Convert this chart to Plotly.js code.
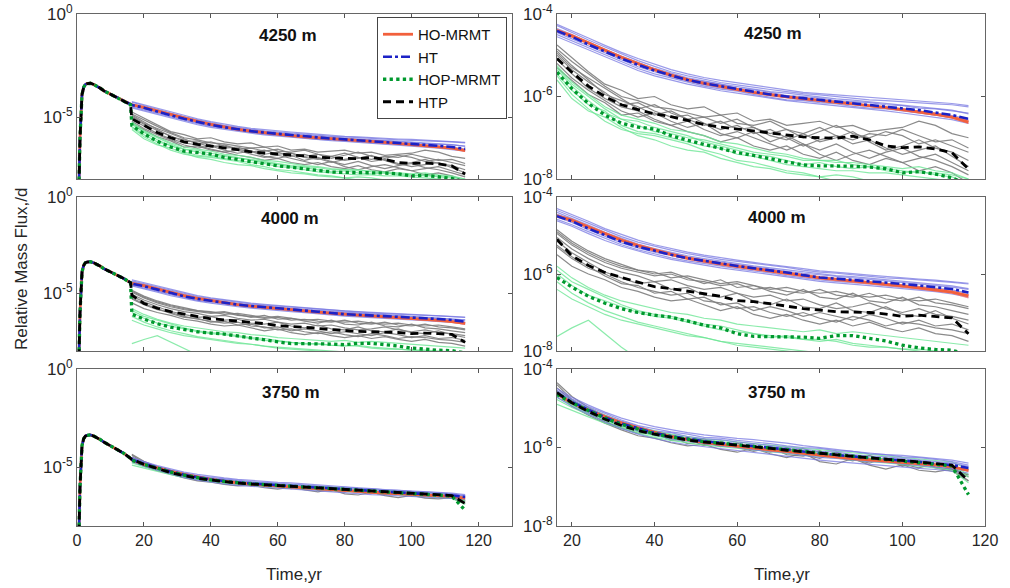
<!DOCTYPE html>
<html>
<head>
<meta charset="utf-8">
<script src="https://cdn.plot.ly/plotly-3.0.1.min.js"></script>
<style>html,body{margin:0;padding:0;background:#fff}#chart{width:1010px;height:588px}</style>
</head>
<body>
<div id="chart"></div>
<script>
// ---------------- DATA (log10 of relative mass flux) ----------------
const T_EARLY = [0.3, 0.6, 0.9, 1.2, 1.5, 2, 2.5, 3, 3.5, 4, 5, 6, 7, 8, 10, 12, 14, 16];
const EARLY_4250 = [-9, -8.2, -6.0, -4.6, -3.9, -3.55, -3.42, -3.38, -3.36, -3.36, -3.42, -3.5, -3.6, -3.72, -3.88, -4.06, -4.22, -4.40];
const EARLY_4000 = [-9, -8.2, -6.0, -4.6, -3.9, -3.55, -3.42, -3.38, -3.36, -3.36, -3.42, -3.5, -3.6, -3.72, -3.88, -4.06, -4.24, -4.45];
const EARLY_3750 = [-9, -8.2, -6.0, -4.6, -3.9, -3.55, -3.42, -3.38, -3.36, -3.36, -3.42, -3.5, -3.6, -3.72, -3.9, -4.1, -4.3, -4.55];

const T = [16.4, 20, 24, 28, 32, 36, 40, 44, 48, 52, 56, 60, 64, 68, 72, 76, 80, 84, 88, 92, 96, 100, 104, 108, 112, 116];

// 4250 m
const HO_4250  = [-4.40,-4.53,-4.70,-4.88,-5.05,-5.20,-5.35,-5.48,-5.59,-5.68,-5.76,-5.83,-5.90,-5.96,-6.01,-6.05,-6.10,-6.14,-6.18,-6.22,-6.27,-6.32,-6.37,-6.43,-6.50,-6.62];
const HT_4250  = [-4.41,-4.55,-4.74,-4.91,-5.08,-5.23,-5.37,-5.49,-5.60,-5.68,-5.75,-5.81,-5.88,-5.95,-6.00,-6.04,-6.08,-6.12,-6.16,-6.20,-6.24,-6.28,-6.33,-6.39,-6.45,-6.54];
const HOP_4250 = [-5.41,-5.81,-6.17,-6.45,-6.65,-6.74,-6.79,-6.95,-7.06,-7.16,-7.26,-7.36,-7.43,-7.51,-7.60,-7.66,-7.68,-7.68,-7.69,-7.71,-7.75,-7.85,-7.82,-7.88,-7.97,-8.15];
const HTP_4250 = [-5.08,-5.41,-5.75,-6.00,-6.20,-6.32,-6.42,-6.49,-6.58,-6.68,-6.74,-6.79,-6.84,-6.89,-6.94,-6.98,-7.00,-7.01,-6.96,-7.05,-7.20,-7.24,-7.22,-7.27,-7.36,-7.76];
const HO_RUNS_4250 = [
  [-4.42,-4.56,-4.72,-4.90,-5.08,-5.23,-5.37,-5.50,-5.61,-5.70,-5.78,-5.85,-5.92,-5.98,-6.03,-6.07,-6.12,-6.16,-6.20,-6.24,-6.29,-6.34,-6.39,-6.45,-6.52,-6.65],
  [-4.38,-4.50,-4.68,-4.86,-5.03,-5.18,-5.33,-5.46,-5.57,-5.66,-5.74,-5.81,-5.88,-5.94,-5.99,-6.03,-6.08,-6.12,-6.16,-6.20,-6.25,-6.30,-6.35,-6.41,-6.48,-6.58]
];
const HT_RUNS_4250 = [
  [-4.28,-4.45,-4.63,-4.80,-4.97,-5.13,-5.27,-5.40,-5.50,-5.58,-5.66,-5.72,-5.78,-5.83,-5.88,-5.93,-5.96,-6.00,-6.05,-6.08,-6.10,-6.13,-6.15,-6.18,-6.20,-6.25],
  [-4.35,-4.50,-4.70,-4.88,-5.05,-5.22,-5.33,-5.47,-5.58,-5.64,-5.70,-5.80,-5.84,-5.90,-5.98,-6.00,-6.04,-6.10,-6.12,-6.15,-6.20,-6.22,-6.28,-6.30,-6.35,-6.40],
  [-4.50,-4.65,-4.83,-5.00,-5.17,-5.32,-5.45,-5.55,-5.65,-5.75,-5.82,-5.87,-5.95,-6.02,-6.08,-6.10,-6.15,-6.18,-6.24,-6.28,-6.30,-6.35,-6.40,-6.45,-6.52,-6.60],
  [-4.45,-4.60,-4.78,-4.95,-5.12,-5.28,-5.40,-5.52,-5.62,-5.72,-5.79,-5.85,-5.90,-5.97,-6.03,-6.08,-6.12,-6.15,-6.18,-6.22,-6.26,-6.30,-6.36,-6.40,-6.46,-6.55],
  [-4.38,-4.52,-4.68,-4.86,-5.02,-5.18,-5.32,-5.44,-5.55,-5.62,-5.70,-5.76,-5.82,-5.88,-5.92,-5.97,-6.02,-6.06,-6.09,-6.13,-6.17,-6.20,-6.24,-6.29,-6.33,-6.42],
  [-4.25,-4.40,-4.58,-4.76,-4.93,-5.08,-5.22,-5.35,-5.45,-5.54,-5.61,-5.67,-5.72,-5.78,-5.84,-5.90,-5.93,-5.96,-6.00,-6.03,-6.06,-6.08,-6.11,-6.14,-6.17,-6.22],
  [-4.55,-4.70,-4.88,-5.05,-5.22,-5.37,-5.50,-5.60,-5.70,-5.78,-5.86,-5.92,-5.98,-6.05,-6.10,-6.14,-6.18,-6.22,-6.27,-6.31,-6.35,-6.40,-6.45,-6.50,-6.56,-6.65]
];
const HOP_RUNS_4250 = [
  [-5.30,-5.70,-6.00,-6.30,-6.55,-6.60,-6.75,-6.85,-6.95,-7.10,-7.20,-7.30,-7.40,-7.45,-7.55,-7.65,-7.60,-7.70,-7.75,-7.70,-7.80,-7.85,-7.80,-7.90,-7.95,-8.10],
  [-5.50,-5.95,-6.30,-6.60,-6.80,-6.90,-6.95,-7.05,-7.15,-7.30,-7.40,-7.55,-7.60,-7.70,-7.80,-7.85,-7.95,-8.05,-8.10,-8.10,-8.15,-8.20,-8.20,-8.20,-8.20,-8.20],
  [-5.35,-5.75,-6.10,-6.40,-6.55,-6.70,-6.85,-6.90,-7.00,-7.05,-7.15,-7.25,-7.35,-7.40,-7.45,-7.55,-7.55,-7.60,-7.60,-7.65,-7.70,-7.75,-7.70,-7.80,-7.85,-8.00],
  [-5.60,-6.05,-6.35,-6.50,-6.75,-6.95,-7.05,-7.20,-7.30,-7.35,-7.50,-7.60,-7.70,-7.75,-7.85,-7.90,-7.95,-7.90,-7.95,-8.05,-8.10,-8.05,-8.10,-8.15,-8.20,-8.20],
  [-5.45,-5.85,-6.20,-6.35,-6.70,-6.85,-6.90,-7.00,-7.10,-7.20,-7.25,-7.40,-7.45,-7.55,-7.65,-7.70,-7.75,-7.80,-7.80,-7.85,-7.85,-7.90,-7.95,-8.00,-8.05,-8.20],
  [-5.25,-5.65,-5.95,-6.25,-6.45,-6.55,-6.65,-6.80,-6.85,-6.95,-7.10,-7.15,-7.25,-7.35,-7.40,-7.50,-7.55,-7.55,-7.65,-7.70,-7.75,-7.80,-7.85,-7.85,-7.90,-8.00]
];
const HTP_RUNS_4250 = [
  [-4.75,-5.05,-5.40,-5.70,-5.85,-6.05,-6.00,-6.20,-6.30,-6.25,-6.45,-6.40,-6.60,-6.55,-6.70,-6.65,-6.60,-6.75,-6.70,-6.85,-6.80,-6.75,-6.60,-6.70,-6.90,-7.00],
  [-4.90,-5.25,-5.60,-5.95,-6.10,-6.25,-6.45,-6.35,-6.55,-6.70,-6.60,-6.80,-6.75,-6.95,-7.05,-6.90,-7.10,-7.00,-6.85,-7.10,-7.30,-7.20,-7.05,-7.25,-7.35,-7.55],
  [-5.00,-5.35,-5.65,-5.90,-6.20,-6.15,-6.35,-6.50,-6.45,-6.65,-6.80,-6.70,-6.90,-6.80,-7.00,-7.20,-7.05,-6.95,-7.15,-7.05,-7.25,-7.40,-7.30,-7.20,-7.45,-7.70],
  [-5.20,-5.55,-5.85,-6.10,-6.35,-6.50,-6.40,-6.60,-6.75,-6.65,-6.90,-7.00,-6.85,-7.10,-6.95,-7.15,-7.30,-7.15,-7.35,-7.50,-7.35,-7.25,-7.45,-7.55,-7.70,-7.90],
  [-4.85,-5.15,-5.45,-5.75,-6.00,-6.10,-6.25,-6.30,-6.40,-6.50,-6.45,-6.65,-6.70,-6.60,-6.80,-6.90,-6.75,-6.95,-7.05,-6.90,-6.95,-6.80,-6.95,-7.10,-7.05,-7.25],
  [-5.30,-5.60,-5.95,-6.15,-6.45,-6.40,-6.60,-6.70,-6.85,-6.95,-7.10,-7.00,-7.20,-7.30,-7.20,-7.40,-7.50,-7.35,-7.55,-7.65,-7.50,-7.60,-7.80,-7.70,-7.85,-8.10],
  [-4.95,-5.30,-5.55,-5.80,-6.05,-6.30,-6.20,-6.40,-6.55,-6.50,-6.65,-6.55,-6.75,-6.90,-6.80,-7.00,-6.85,-6.70,-6.90,-7.00,-6.85,-6.95,-7.15,-7.05,-7.20,-7.35],
  [-5.10,-5.45,-5.80,-6.05,-6.25,-6.35,-6.55,-6.70,-6.60,-6.80,-6.95,-6.85,-7.00,-7.15,-7.30,-7.15,-7.40,-7.55,-7.40,-7.30,-7.45,-7.60,-7.50,-7.40,-7.60,-7.80]
];

// 4000 m
const HO_4000  = [-4.49,-4.60,-4.78,-4.96,-5.12,-5.26,-5.38,-5.49,-5.59,-5.67,-5.74,-5.80,-5.86,-5.92,-5.98,-6.04,-6.10,-6.14,-6.18,-6.22,-6.26,-6.31,-6.36,-6.41,-6.47,-6.57];
const HT_4000  = [-4.50,-4.63,-4.82,-5.00,-5.16,-5.29,-5.40,-5.50,-5.59,-5.66,-5.73,-5.79,-5.85,-5.90,-5.96,-6.03,-6.09,-6.12,-6.15,-6.19,-6.22,-6.26,-6.30,-6.34,-6.39,-6.48];
const HOP_4000 = [-6.09,-6.34,-6.58,-6.76,-6.90,-7.00,-7.07,-7.12,-7.22,-7.33,-7.40,-7.55,-7.62,-7.62,-7.62,-7.64,-7.67,-7.60,-7.60,-7.66,-7.74,-7.85,-7.92,-7.96,-7.98,-8.10];
const HTP_4000 = [-5.10,-5.53,-5.78,-5.96,-6.09,-6.20,-6.33,-6.38,-6.45,-6.52,-6.58,-6.69,-6.72,-6.77,-6.83,-6.90,-6.94,-6.98,-6.99,-7.00,-7.04,-7.10,-7.07,-7.10,-7.14,-7.55];
const HO_RUNS_4000 = [
  [-4.52,-4.63,-4.81,-4.99,-5.15,-5.29,-5.41,-5.52,-5.62,-5.70,-5.77,-5.83,-5.89,-5.95,-6.01,-6.07,-6.13,-6.17,-6.21,-6.25,-6.29,-6.34,-6.39,-6.44,-6.50,-6.62],
  [-4.47,-4.58,-4.75,-4.93,-5.09,-5.23,-5.35,-5.46,-5.56,-5.64,-5.71,-5.77,-5.83,-5.89,-5.95,-6.01,-6.07,-6.11,-6.15,-6.19,-6.23,-6.28,-6.33,-6.38,-6.44,-6.54]
];
const HT_RUNS_4000 = [
  [-4.35,-4.50,-4.68,-4.86,-5.03,-5.17,-5.28,-5.38,-5.47,-5.55,-5.62,-5.67,-5.72,-5.78,-5.83,-5.90,-5.95,-5.98,-6.02,-6.06,-6.10,-6.12,-6.15,-6.18,-6.22,-6.26],
  [-4.45,-4.58,-4.77,-4.95,-5.12,-5.25,-5.36,-5.47,-5.57,-5.64,-5.70,-5.75,-5.82,-5.88,-5.93,-5.98,-6.02,-6.06,-6.10,-6.14,-6.18,-6.22,-6.26,-6.30,-6.34,-6.40],
  [-4.58,-4.72,-4.90,-5.08,-5.24,-5.37,-5.48,-5.58,-5.66,-5.73,-5.80,-5.86,-5.92,-5.97,-6.04,-6.10,-6.15,-6.19,-6.22,-6.26,-6.30,-6.34,-6.38,-6.42,-6.47,-6.55],
  [-4.52,-4.66,-4.85,-5.03,-5.19,-5.32,-5.43,-5.52,-5.61,-5.69,-5.76,-5.82,-5.88,-5.93,-5.99,-6.05,-6.11,-6.14,-6.17,-6.21,-6.24,-6.28,-6.32,-6.36,-6.41,-6.50],
  [-4.40,-4.55,-4.73,-4.92,-5.08,-5.22,-5.34,-5.44,-5.53,-5.60,-5.67,-5.73,-5.79,-5.84,-5.89,-5.95,-6.00,-6.04,-6.07,-6.11,-6.15,-6.19,-6.23,-6.27,-6.31,-6.38],
  [-4.30,-4.45,-4.63,-4.82,-4.98,-5.12,-5.24,-5.34,-5.43,-5.51,-5.58,-5.64,-5.70,-5.75,-5.80,-5.86,-5.92,-5.95,-5.99,-6.03,-6.07,-6.10,-6.13,-6.16,-6.20,-6.24],
  [-4.62,-4.76,-4.95,-5.13,-5.28,-5.41,-5.52,-5.62,-5.70,-5.77,-5.84,-5.90,-5.96,-6.01,-6.08,-6.14,-6.19,-6.23,-6.26,-6.30,-6.34,-6.38,-6.42,-6.46,-6.52,-6.60]
];
const HOP_RUNS_4000 = [
  [-5.80,-6.10,-6.35,-6.55,-6.70,-6.80,-6.90,-7.00,-7.05,-7.15,-7.20,-7.30,-7.35,-7.40,-7.45,-7.50,-7.45,-7.55,-7.50,-7.55,-7.60,-7.65,-7.70,-7.75,-7.80,-7.85],
  [-6.20,-6.50,-6.75,-6.95,-7.10,-7.25,-7.35,-7.45,-7.55,-7.65,-7.75,-7.80,-7.85,-7.90,-7.95,-8.00,-8.05,-8.10,-8.10,-8.10,-8.10,-8.10,-8.10,-8.10,-8.10,-8.10],
  [-6.00,-6.30,-6.55,-6.70,-6.85,-7.00,-7.10,-7.15,-7.25,-7.35,-7.45,-7.50,-7.55,-7.65,-7.60,-7.70,-7.75,-7.70,-7.80,-7.85,-7.90,-7.95,-7.95,-8.00,-8.05,-8.10],
  [-7.62,-7.40,-7.20,-7.55,-7.90,-8.20,-8.20,-8.20,-8.20,-8.20,-8.20,-8.20,-8.20,-8.20,-8.20,-8.20,-8.20,-8.20,-8.20,-8.20,-8.20,-8.20,-8.20,-8.20,-8.20,-8.20],
  [-5.90,-6.20,-6.40,-6.60,-6.80,-6.95,-7.05,-7.10,-7.20,-7.30,-7.35,-7.45,-7.55,-7.60,-7.65,-7.70,-7.70,-7.75,-7.85,-7.90,-7.90,-7.95,-8.00,-8.05,-8.05,-8.10],
  [-6.40,-6.65,-6.85,-7.05,-7.20,-7.30,-7.40,-7.50,-7.60,-7.65,-7.75,-7.85,-7.90,-7.95,-8.00,-8.05,-8.05,-8.10,-8.10,-8.10,-8.10,-8.10,-8.10,-8.10,-8.10,-8.10]
];
const HTP_RUNS_4000 = [
  [-4.95,-5.25,-5.50,-5.70,-5.85,-5.95,-6.05,-6.00,-6.15,-6.20,-6.30,-6.25,-6.40,-6.35,-6.45,-6.50,-6.40,-6.55,-6.60,-6.50,-6.65,-6.70,-6.60,-6.75,-6.80,-6.90],
  [-5.15,-5.45,-5.70,-5.95,-6.10,-6.25,-6.20,-6.40,-6.35,-6.55,-6.60,-6.50,-6.70,-6.80,-6.65,-6.85,-6.90,-6.75,-6.95,-7.00,-6.85,-7.05,-7.10,-6.95,-7.15,-7.30],
  [-5.30,-5.60,-5.85,-6.00,-6.20,-6.35,-6.45,-6.55,-6.50,-6.70,-6.75,-6.90,-6.85,-7.00,-7.10,-7.00,-7.15,-7.25,-7.10,-7.20,-7.35,-7.25,-7.30,-7.40,-7.45,-7.55],
  [-5.05,-5.35,-5.60,-5.80,-5.95,-6.05,-6.20,-6.15,-6.30,-6.40,-6.35,-6.50,-6.60,-6.55,-6.70,-6.65,-6.80,-6.90,-6.85,-6.75,-6.90,-7.00,-6.90,-7.05,-7.10,-7.20],
  [-5.50,-5.80,-6.00,-6.15,-6.35,-6.45,-6.60,-6.70,-6.65,-6.80,-6.95,-6.85,-7.05,-7.15,-7.05,-7.20,-7.30,-7.20,-7.35,-7.25,-7.40,-7.50,-7.40,-7.55,-7.60,-7.75],
  [-4.90,-5.20,-5.45,-5.65,-5.80,-5.90,-5.95,-6.10,-6.05,-6.15,-6.25,-6.20,-6.30,-6.40,-6.35,-6.45,-6.50,-6.45,-6.55,-6.60,-6.55,-6.65,-6.70,-6.65,-6.75,-6.85],
  [-5.25,-5.55,-5.80,-6.05,-6.25,-6.30,-6.50,-6.45,-6.65,-6.60,-6.80,-6.75,-6.95,-6.85,-6.95,-7.10,-7.00,-7.10,-7.20,-7.05,-7.15,-7.30,-7.20,-7.35,-7.30,-7.45],
  [-4.85,-5.15,-5.40,-5.60,-5.75,-5.90,-6.00,-5.95,-6.10,-6.25,-6.15,-6.35,-6.30,-6.45,-6.55,-6.40,-6.60,-6.65,-6.50,-6.70,-6.75,-6.60,-6.80,-6.85,-6.95,-7.05]
];

// 3750 m
const HO_3750  = [-4.64,-4.86,-5.05,-5.22,-5.37,-5.50,-5.62,-5.72,-5.80,-5.87,-5.92,-5.97,-6.02,-6.06,-6.10,-6.15,-6.20,-6.24,-6.28,-6.31,-6.34,-6.37,-6.40,-6.44,-6.49,-6.58];
const HT_3750  = [-4.62,-4.84,-5.04,-5.23,-5.39,-5.52,-5.63,-5.71,-5.78,-5.84,-5.88,-5.92,-5.96,-6.00,-6.05,-6.10,-6.15,-6.19,-6.23,-6.27,-6.30,-6.33,-6.37,-6.41,-6.45,-6.52];
const HOP_3750 = [-4.65,-4.86,-5.06,-5.25,-5.41,-5.54,-5.65,-5.73,-5.80,-5.85,-5.89,-5.93,-5.97,-6.01,-6.05,-6.10,-6.15,-6.19,-6.23,-6.26,-6.30,-6.34,-6.38,-6.42,-6.47,-7.20];
const HTP_3750 = [-4.60,-4.86,-5.08,-5.28,-5.44,-5.57,-5.66,-5.74,-5.81,-5.86,-5.90,-5.93,-5.97,-6.02,-6.07,-6.11,-6.15,-6.19,-6.23,-6.27,-6.30,-6.33,-6.37,-6.41,-6.45,-6.85];
const HO_RUNS_3750 = [
  [-4.62,-4.84,-5.03,-5.20,-5.35,-5.48,-5.60,-5.70,-5.78,-5.85,-5.91,-5.96,-6.01,-6.05,-6.09,-6.14,-6.19,-6.23,-6.27,-6.30,-6.33,-6.36,-6.39,-6.43,-6.48,-6.56],
  [-4.66,-4.88,-5.07,-5.24,-5.39,-5.52,-5.64,-5.74,-5.82,-5.89,-5.94,-5.99,-6.04,-6.08,-6.12,-6.17,-6.22,-6.26,-6.30,-6.33,-6.36,-6.39,-6.42,-6.46,-6.51,-6.60]
];
const HT_RUNS_3750 = [
  [-4.50,-4.72,-4.92,-5.10,-5.25,-5.37,-5.47,-5.55,-5.62,-5.68,-5.73,-5.77,-5.80,-5.84,-5.89,-5.95,-6.00,-6.06,-6.10,-6.14,-6.18,-6.20,-6.24,-6.28,-6.32,-6.40],
  [-4.72,-4.95,-5.15,-5.35,-5.52,-5.66,-5.77,-5.86,-5.93,-5.98,-6.03,-6.08,-6.13,-6.18,-6.23,-6.28,-6.32,-6.36,-6.40,-6.43,-6.46,-6.50,-6.53,-6.56,-6.60,-6.65],
  [-4.58,-4.80,-5.00,-5.18,-5.33,-5.45,-5.58,-5.62,-5.72,-5.78,-5.80,-5.86,-5.90,-5.95,-6.00,-6.04,-6.10,-6.12,-6.18,-6.22,-6.24,-6.28,-6.32,-6.35,-6.40,-6.48],
  [-4.66,-4.88,-5.10,-5.28,-5.44,-5.58,-5.68,-5.78,-5.84,-5.90,-5.96,-6.00,-6.06,-6.10,-6.14,-6.20,-6.25,-6.28,-6.32,-6.36,-6.38,-6.42,-6.46,-6.50,-6.54,-6.60],
  [-4.55,-4.76,-4.96,-5.14,-5.30,-5.44,-5.52,-5.60,-5.66,-5.74,-5.76,-5.82,-5.86,-5.90,-5.96,-6.00,-6.02,-6.08,-6.10,-6.16,-6.18,-6.24,-6.26,-6.30,-6.36,-6.45]
];
const HOP_RUNS_3750 = [
  [-4.72,-4.92,-5.12,-5.30,-5.46,-5.58,-5.68,-5.76,-5.82,-5.86,-5.90,-5.94,-5.97,-6.02,-6.06,-6.10,-6.14,-6.18,-6.22,-6.26,-6.30,-6.34,-6.38,-6.42,-6.46,-6.75],
  [-4.90,-5.06,-5.22,-5.38,-5.52,-5.64,-5.74,-5.82,-5.88,-5.94,-5.98,-6.02,-6.06,-6.10,-6.14,-6.19,-6.23,-6.27,-6.32,-6.35,-6.39,-6.43,-6.47,-6.52,-6.58,-6.90],
  [-4.58,-4.80,-5.00,-5.18,-5.34,-5.48,-5.58,-5.66,-5.72,-5.78,-5.82,-5.86,-5.90,-5.94,-5.98,-6.02,-6.06,-6.10,-6.14,-6.17,-6.21,-6.25,-6.29,-6.33,-6.37,-6.55],
  [-4.78,-4.98,-5.16,-5.33,-5.48,-5.60,-5.70,-5.78,-5.84,-5.89,-5.93,-5.97,-6.01,-6.05,-6.09,-6.13,-6.17,-6.21,-6.25,-6.28,-6.31,-6.34,-6.38,-6.42,-6.46,-6.68]
];
const HTP_RUNS_3750 = [
  [-4.35,-4.70,-4.98,-5.20,-5.40,-5.55,-5.66,-5.78,-5.74,-5.88,-5.96,-5.90,-6.02,-6.12,-6.00,-6.18,-6.28,-6.12,-6.30,-6.40,-6.25,-6.45,-6.32,-6.50,-6.55,-6.70],
  [-4.62,-4.95,-5.18,-5.38,-5.55,-5.70,-5.76,-5.88,-5.96,-5.92,-6.05,-6.12,-6.02,-6.16,-6.26,-6.14,-6.36,-6.42,-6.28,-6.45,-6.55,-6.44,-6.58,-6.62,-6.55,-6.85],
  [-4.48,-4.80,-5.02,-5.22,-5.40,-5.52,-5.70,-5.72,-5.90,-5.84,-5.98,-5.88,-6.06,-5.98,-6.12,-6.02,-6.18,-6.24,-6.34,-6.20,-6.34,-6.42,-6.52,-6.40,-6.55,-6.70],
  [-4.55,-4.90,-5.12,-5.34,-5.50,-5.64,-5.62,-5.82,-5.78,-5.95,-5.84,-6.00,-6.10,-6.00,-6.18,-6.22,-6.08,-6.26,-6.18,-6.36,-6.26,-6.48,-6.36,-6.52,-6.60,-6.85],
  [-4.40,-4.78,-5.05,-5.24,-5.36,-5.50,-5.60,-5.68,-5.80,-5.78,-5.92,-5.95,-5.94,-6.08,-6.05,-6.10,-6.22,-6.18,-6.22,-6.30,-6.35,-6.30,-6.44,-6.46,-6.50,-6.75]
];

const DEPTH_LABELS = ['4250 m', '4000 m', '3750 m'];
const SERIES_NAMES = ['HO-MRMT', 'HT', 'HOP-MRMT', 'HTP'];
const LEFT_Y_TICKS = [1e-5, 1];
const LEFT_Y_TEXT = ['10<sup>-5</sup>', '10<sup>0</sup>'];
const RIGHT_Y_TICKS = [1e-8, 1e-6, 1e-4];
const RIGHT_Y_TEXT = ['10<sup>-8</sup>', '10<sup>-6</sup>', '10<sup>-4</sup>'];
const LEFT_X_TICKS = [0, 20, 40, 60, 80, 100, 120];
const RIGHT_X_TICKS = [20, 40, 60, 80, 100, 120];

// ---------------- BUILD ----------------
const depths = [
  {early: EARLY_4250, means: [HO_4250, HT_4250, HOP_4250, HTP_4250], runs: [HO_RUNS_4250, HT_RUNS_4250, HOP_RUNS_4250, HTP_RUNS_4250]},
  {early: EARLY_4000, means: [HO_4000, HT_4000, HOP_4000, HTP_4000], runs: [HO_RUNS_4000, HT_RUNS_4000, HOP_RUNS_4000, HTP_RUNS_4000]},
  {early: EARLY_3750, means: [HO_3750, HT_3750, HOP_3750, HTP_3750], runs: [HO_RUNS_3750, HT_RUNS_3750, HOP_RUNS_3750, HTP_RUNS_3750]}
];
const pw = v => v.map(e => Math.pow(10, e));

const meanStyle = [
  {color: '#f2603c', width: 2.8, dash: 'solid'},
  {color: '#1c22c6', width: 2.6, dash: 'dashdot'},
  {color: '#00992e', width: 3.3, dash: 'dot'},
  {color: '#000000', width: 2.8, dash: '8px,5px'}
];
const runStyle = [
  {color: 'rgba(240,120,120,0.75)', width: 1.2},
  {color: 'rgba(120,120,225,0.75)', width: 1.2},
  {color: 'rgba(110,230,150,0.8)', width: 1.2},
  {color: 'rgba(125,125,125,0.9)', width: 1.2}
];
const runOrder = [3, 2, 1, 0];
const meanOrder = [0, 1, 2, 3];

const W = 1010, H = 588;
const xDom = [[77 / W, 512 / W], [557 / W, 985 / W]];
const yPix = [[14, 179], [197, 351], [369, 526]];
const yDom = yPix.map(p => [1 - p[1] / H, 1 - p[0] / H]);

const traces = [];
const layout = {
  width: W, height: H,
  margin: {l: 0, r: 0, t: 0, b: 0},
  paper_bgcolor: '#ffffff', plot_bgcolor: '#ffffff',
  font: {family: 'Liberation Sans, Arial, sans-serif', size: 15, color: '#262626'},
  showlegend: true,
  legend: {
    x: 377 / W, y: 1 - 17 / H, xanchor: 'left', yanchor: 'top',
    bgcolor: '#ffffff', bordercolor: '#444', borderwidth: 1,
    font: {size: 15, color: '#111'}, tracegroupgap: 0, itemwidth: 30
  },
  annotations: []
};

for (let r = 0; r < 3; r++) {
  const d = depths[r];
  for (let c = 0; c < 2; c++) {
    const idx = r * 2 + c + 1;
    const xa = 'x' + idx, ya = 'y' + idx;
    const xk = 'xaxis' + (idx === 1 ? '' : idx), yk = 'yaxis' + (idx === 1 ? '' : idx);
    const isBottom = r === 2;
    layout[xk] = {
      domain: xDom[c], anchor: ya, range: c === 0 ? [0, 130] : [16.4, 120],
      tickvals: c === 0 ? LEFT_X_TICKS : RIGHT_X_TICKS,
      showticklabels: isBottom, ticks: 'inside', ticklen: 4, tickcolor: '#555',
      showline: true, linecolor: '#666', linewidth: 1, mirror: 'ticks',
      showgrid: false, zeroline: false, tickfont: {size: 16, color: '#262626'}
    };
    layout[yk] = {
      domain: yDom[r], anchor: xa, type: 'log', range: c === 0 ? [-8, 0] : [-8, -4],
      tickvals: c === 0 ? LEFT_Y_TICKS : RIGHT_Y_TICKS,
      ticktext: c === 0 ? LEFT_Y_TEXT : RIGHT_Y_TEXT,
      ticks: 'inside', ticklen: 4, tickcolor: '#555',
      showline: true, linecolor: '#666', linewidth: 1, mirror: 'ticks',
      showgrid: false, zeroline: false, tickfont: {size: 17, color: '#262626'}
    };
    runOrder.forEach(m => {
      d.runs[m].forEach(run => {
        traces.push({
          type: 'scatter', mode: 'lines', x: T, y: pw(run), xaxis: xa, yaxis: ya,
          line: {color: runStyle[m].color, width: runStyle[m].width},
          showlegend: false, hoverinfo: 'skip'
        });
      });
    });
    meanOrder.forEach(m => {
      const xs = c === 0 ? T_EARLY.concat(T) : T;
      const ys = c === 0 ? d.early.concat(d.means[m]) : d.means[m];
      traces.push({
        type: 'scatter', mode: 'lines', x: xs, y: pw(ys), xaxis: xa, yaxis: ya,
        name: SERIES_NAMES[m], legendrank: m + 1,
        line: {color: meanStyle[m].color, width: meanStyle[m].width, dash: meanStyle[m].dash},
        showlegend: idx === 1
      });
    });
  }
}

const titlePos = [[[288, 35], [773, 34]], [[290, 218], [777, 217]], [[291, 392], [777, 392]]];
for (let r = 0; r < 3; r++) {
  for (let c = 0; c < 2; c++) {
    layout.annotations.push({
      text: '<b>' + DEPTH_LABELS[r] + '</b>', xref: 'paper', yref: 'paper',
      x: titlePos[r][c][0] / W, y: 1 - titlePos[r][c][1] / H, xanchor: 'center', yanchor: 'middle',
      showarrow: false, font: {size: 17, color: '#111'}
    });
  }
}
layout.annotations.push({text: 'Time,yr', xref: 'paper', yref: 'paper', x: 294 / W, y: 1 - 574 / H,
  xanchor: 'center', yanchor: 'middle', showarrow: false, font: {size: 17, color: '#262626'}});
layout.annotations.push({text: 'Time,yr', xref: 'paper', yref: 'paper', x: 782 / W, y: 1 - 574 / H,
  xanchor: 'center', yanchor: 'middle', showarrow: false, font: {size: 17, color: '#262626'}});
layout.annotations.push({text: 'Relative Mass Flux,/d', xref: 'paper', yref: 'paper', x: 21 / W, y: 1 - 269 / H,
  xanchor: 'center', yanchor: 'middle', textangle: -90, showarrow: false, font: {size: 17, color: '#262626'}});

Plotly.newPlot('chart', traces, layout, {displayModeBar: false, staticPlot: true});
</script>
</body>
</html>
